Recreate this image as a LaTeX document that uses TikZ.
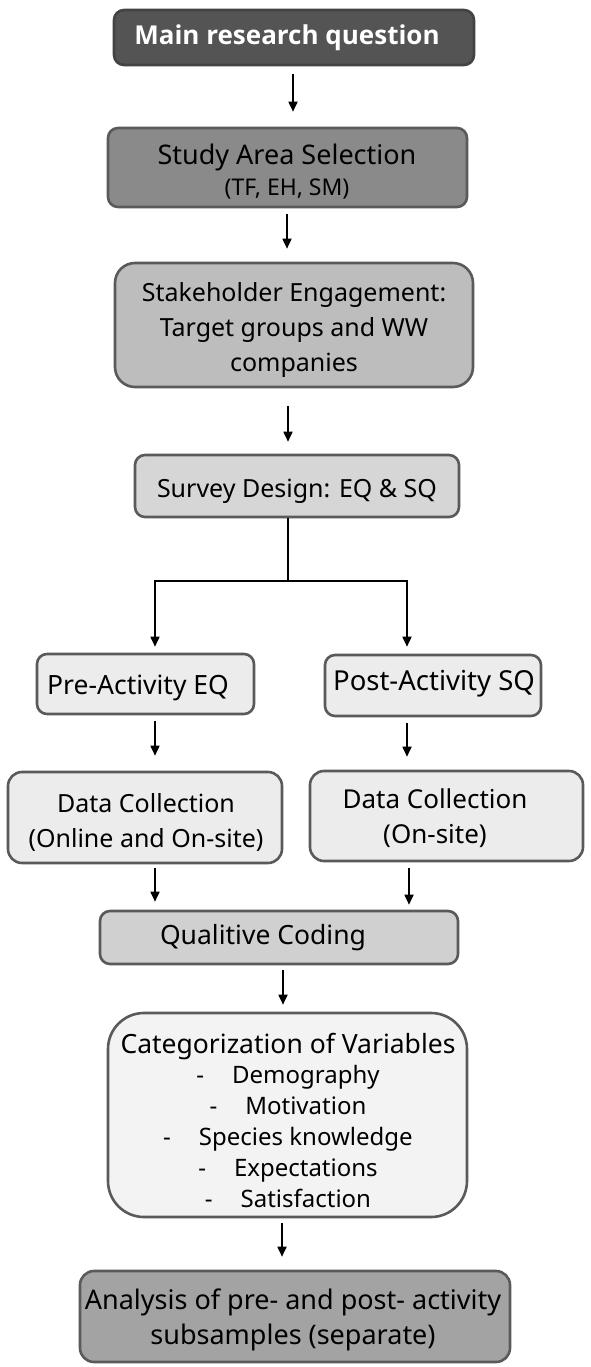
\documentclass[tikz,border=0pt]{standalone}
\usepackage{fontspec}
\setmainfont{Noto Sans}
\newfontfamily\titlefont{Open Sans}
\usetikzlibrary{arrows.meta}
\definecolor{boxline}{HTML}{5A5A5A}
\definecolor{cmain}{HTML}{545454}
\definecolor{cstudy}{HTML}{8A8A8A}
\definecolor{cstake}{HTML}{BDBDBD}
\definecolor{csurvey}{HTML}{D6D6D6}
\definecolor{clight}{HTML}{ECECEC}
\definecolor{cqual}{HTML}{D0D0D0}
\definecolor{ccat}{HTML}{F3F3F3}
\definecolor{cana}{HTML}{A3A3A3}
\begin{document}
\begin{tikzpicture}[x=1pt,y=-1pt,
  box/.style={draw=boxline, line width=2.6pt, rounded corners=10pt, inner sep=0pt, anchor=center},
  txt/.style={font=\fontsize{25}{35}\selectfont, align=center, inner sep=0pt, text=black},
  txtb/.style={font=\fontsize{26.5}{35}\selectfont, align=center, inner sep=0pt, text=black},
  small/.style={font=\fontsize{23}{26}\selectfont, inner sep=0pt, text=black},
  cattxt/.style={font=\fontsize{24}{30.8}\selectfont, align=center, inner sep=0pt, text=black},
  arr/.style={line width=1.7pt, -{Triangle[length=10pt,width=9pt]}},
  plain/.style={line width=1.7pt},
]
\path[use as bounding box, fill=white] (0,0) rectangle (591,1367);

% boxes
\node[box, fill=cmain, draw=cmain!80!black, minimum width=360pt, minimum height=55pt] (main) at (294,37.5) {};
\node[box, fill=cstudy, minimum width=359pt, minimum height=79pt] (study) at (287.5,167.5) {};
\node[box, fill=cstake, rounded corners=20pt, minimum width=358pt, minimum height=124pt] (stake) at (294,325) {};
\node[box, fill=csurvey, minimum width=324pt, minimum height=62pt] (survey) at (297,486) {};
\node[box, fill=clight, minimum width=217pt, minimum height=60pt] (pre) at (145.5,684) {};
\node[box, fill=clight, minimum width=216pt, minimum height=61pt] (post) at (433,685.5) {};
\node[box, fill=clight, rounded corners=14pt, minimum width=274pt, minimum height=91pt] (dl) at (145,817.5) {};
\node[box, fill=clight, rounded corners=14pt, minimum width=273pt, minimum height=90pt] (dr) at (446.5,816) {};
\node[box, fill=cqual, minimum width=358pt, minimum height=53pt] (qual) at (279,937.5) {};
\node[box, fill=ccat, rounded corners=36pt, minimum width=359pt, minimum height=204pt] (cat) at (287.5,1115) {};
\node[box, fill=cana, rounded corners=14pt, minimum width=430pt, minimum height=91pt] (ana) at (295,1316.5) {};

% texts
\node[inner sep=0pt, text=white, font=\titlefont\fontsize{26}{30}\selectfont\bfseries] (tmain) at (287,38) {Main research question};
\node[txt, font=\fontsize{27}{35}\selectfont] (tstudy) at (287,157) {Study Area Selection};
\node[small] (tstudy2) at (287,189) {(TF, EH, SM)};
\node[txt] (tstake) at (294,330) {Stakeholder Engagement:\\Target groups and WW\\companies};
\node[txt] (tsurvey) at (297,491) {Survey Design: EQ \& SQ};
\node[txtb] (tpre) at (138,688) {Pre-Activity EQ};
\node[txt, font=\fontsize{27.5}{35}\selectfont] (tpost) at (434,684) {Post-Activity SQ};
\node[txt] (tdl) at (146,822) {Data Collection\\(Online and On-site)};
\node[txt, font=\fontsize{26}{35}\selectfont] (tdr) at (435,818) {Data Collection\\(On-site)};
\node[txtb] (tqual) at (263,938) {Qualitive Coding};
\node[cattxt] (tcat) at (288,1120) {{\fontsize{26.5}{30.8}\selectfont Categorization of Variables}\\
  -\hspace{28pt}Demography\\
  -\hspace{28pt}Motivation\\
  -\hspace{28pt}Species knowledge\\
  -\hspace{28pt}Expectations\\
  -\hspace{28pt}Satisfaction};
\node[txt, font=\fontsize{27}{34.5}\selectfont] (tana) at (293,1320) {Analysis of pre- and post- activity\\subsamples (separate)};

% connector x-positions
\coordinate (x1) at (293,0);
\coordinate (x2) at (287,0);
\coordinate (x3) at (288,0);
\coordinate (jn) at (288,581);
\coordinate (jl) at (155,581);
\coordinate (jr) at (407,581);
\coordinate (x4) at (155,0);
\coordinate (x5) at (407,0);
\coordinate (x6) at (409,0);
\coordinate (x7) at (283,0);
\coordinate (x8) at (282,0);

\draw[arr, shorten <=8pt, shorten >=15pt] (main.south -| x1) -- (study.north -| x1);
\draw[arr, shorten <=6pt, shorten >=13pt] (study.south -| x2) -- (stake.north -| x2);
\draw[arr, shorten <=18pt, shorten >=12pt] (stake.south -| x3) -- (survey.north -| x3);
\draw[plain] (survey.south -| jn) -- (jn);
\draw[arr, shorten >=6pt] (jn) -- (jl) -- (pre.north -| jl);
\draw[arr, shorten >=7pt] (jn) -- (jr) -- (post.north -| jr);
\draw[arr, shorten <=6pt, shorten >=15pt] (pre.south -| x4) -- (dl.north -| x4);
\draw[arr, shorten <=6pt, shorten >=13pt] (post.south -| x5) -- (dr.north -| x5);
\draw[arr, shorten <=4pt, shorten >=8pt] (dl.south -| x4) -- (qual.north -| x4);
\draw[arr, shorten <=6pt, shorten >=5pt] (dr.south -| x6) -- (qual.north -| x6);
\draw[arr, shorten <=5pt, shorten >=7pt] (qual.south -| x7) -- (cat.north -| x7);
\draw[arr, shorten <=5pt, shorten >=13pt] (cat.south -| x8) -- (ana.north -| x8);
\end{tikzpicture}
\end{document}
